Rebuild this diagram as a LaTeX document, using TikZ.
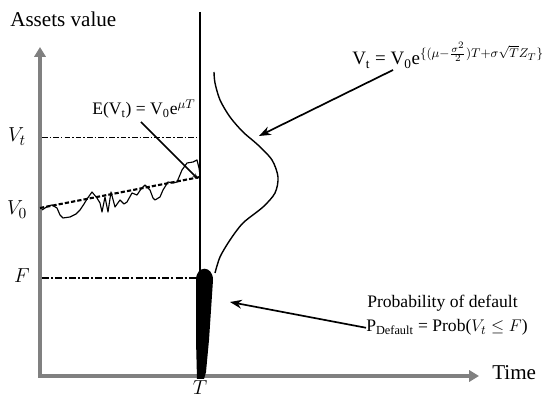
\documentclass[tikz,border=0pt]{standalone}
\usepackage{fontspec}
\setmainfont{Liberation Serif}
\usepackage{amsmath}
\definecolor{axisgray}{RGB}{128, 128, 128}
\usetikzlibrary{arrows.meta}

\begin{document}
\begin{tikzpicture}[
    x=0.025cm, y=-0.025cm,
    >=Stealth,
    axis/.style={line width=3pt, axisgray, line join=miter, {Triangle[length=7pt, width=8pt]}-{Triangle[length=7pt, width=8pt]}},
    pointer/.style={->, line width=1.2pt},
    lbl/.style={font=\fontsize{15}{17}\selectfont},
    small lbl/.style={font=\fontsize{12.5}{15}\selectfont}
]
\useasboundingbox (0,0) rectangle (545,398);

% === Ejes ===
\coordinate (O) at (40,376);
\coordinate (ytop) at (40,47);
\coordinate (xend) at (479,376);
\draw[axis] (xend) -- (O) -- (ytop);

\node[lbl, anchor=base west, inner sep=0] (yname) at (10,27) {Assets value};
\node[lbl, anchor=base west, inner sep=0] (xname) at (492,380) {Time};

% === Niveles V_t, V_0, F ===
\node[lbl, anchor=base, inner sep=0] (vtlab) at (17,142) {$V_t$};
\node[lbl, anchor=base, inner sep=0] (v0lab) at (17,215) {$V_0$};
\node[lbl, anchor=base, inner sep=0] (flab) at (22,283) {$F$};
\node[lbl, anchor=base, inner sep=0] (tlab) at (200,395) {$T$};

\coordinate (vtL) at (42,137);
\coordinate (vtR) at (200,137);
\draw[line width=0.6pt, dash pattern=on 4pt off 1.5pt on 1pt off 1.5pt] (vtL) -- (vtR);

\coordinate (fL) at (42,278);
\coordinate (fR) at (197,278);
\draw[line width=2pt, dash pattern=on 5pt off 1.5pt on 1.5pt off 1.5pt] (fL) -- (fR);

% === Vencimiento T ===
\coordinate (Ttop) at (200,12);
\coordinate (Tbot) at (200,276);
\draw[line width=1.3pt] (Ttop) -- (Tbot);

% === Trayectoria del activo ===
\draw[line width=0.8pt, line join=round]
    plot coordinates {(42,210) (48,206) (52,205) (57,208) (60,215) (63,218) (70,217) (76,214)
    (80,210) (84,204) (87,199) (92,192) (97,198) (100,203) (102,212) (105,197) (108,212)
    (111,192) (115,207) (120,200) (124,204) (127,202) (132,193) (137,195) (141,189) (145,185)
    (150,190) (153,198) (155,200) (160,197) (163,190) (168,182) (173,183) (177,182) (182,170)
    (187,163) (193,162) (197,160) (199,168) (200,175)};

% Valor esperado
\coordinate (eL) at (40,208);
\coordinate (eR) at (200,177);
\draw[line width=1.5pt, dash pattern=on 3pt off 1.5pt] (eL) -- (eR);

% === Distribucion en T ===
\draw[line width=1pt]
    plot[smooth] coordinates {(214,72) (215,83) (220,100) (230,117) (243,132) (258,145)
    (272,160) (278,177) (275,193) (263,207) (243,223) (230,240) (220,257) (215,273)};

% Zona de default
\fill (196,280) .. controls (196,265) and (213,265) .. (213,280) -- (209,340)
    -- (206,372) -- (204,379) -- (197,379) -- (196,340) -- cycle;

% === Etiquetas y flechas ===
\node[small lbl, anchor=base west, inner sep=0] (elab) at (92,115)
    {E(V\textsubscript{t}) = V\textsubscript{0}e$^{\mu T}$};
\coordinate (efrom) at (141,122);
\coordinate (etip) at (198,179);
\draw[pointer, -{Stealth[length=4pt]}] (efrom) -- (etip);

\node[font=\fontsize{13.5}{16}\selectfont, anchor=base west, inner sep=0] (vtform) at (352,65)
    {V\textsubscript{t} = V\textsubscript{0}e$^{\{(\mu-\frac{\sigma^2}{2})T+\sigma\sqrt{T}Z_T\}}$};
\coordinate (vtfrom) at (393,70);
\coordinate (vttip) at (259,136);
\draw[pointer] (vtfrom) -- (vttip);

\node[small lbl, anchor=base west, inner sep=0] (pdtitle) at (367,308) {Probability of default};
\node[small lbl, anchor=base west, inner sep=0] (pdform) at (366,332)
    {P\textsubscript{Default} = Prob($V_t \le F$)};
\coordinate (pdtip) at (230,302);
\draw[pointer] (pdform.west) -- (pdtip);

\end{tikzpicture}
\end{document}
